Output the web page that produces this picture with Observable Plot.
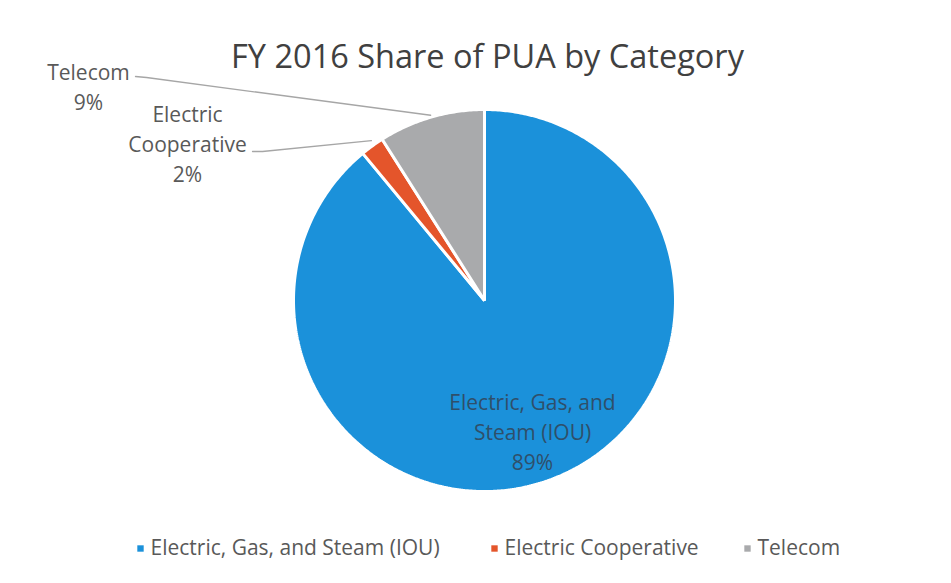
<!DOCTYPE html>
<html>
<head>
<meta charset="utf-8">
<script src="https://cdn.jsdelivr.net/npm/d3@7"></script>
<script src="https://cdn.jsdelivr.net/npm/@observablehq/plot@0.6"></script>
<style>
  html, body { margin: 0; padding: 0; background: #fff; }
  svg { display: block; }
</style>
</head>
<body>
<div id="chart"></div>
<script>
// ---- Data ----
const categories = ["Electric, Gas, and Steam (IOU)", "Electric Cooperative", "Telecom"];
const shares = [89, 2, 9];
const colors = ["#1b91da", "#e4552b", "#a9aaac"];
const labelLines = [["Electric, Gas, and", "Steam (IOU)"], ["Electric", "Cooperative"], ["Telecom"]];
const titleText = "FY 2016 Share of PUA by Category";

// ---- Layout ----
const W = 951, H = 583;
const CX = 484, CY = 300, R = 191;
const ux = px => (px - CX) / R;
const uy = py => (CY - py) / R;
const FONT = "Open Sans, sans-serif";

// pie geometry from the data
const pie = d3.pie().sort(null).value(d => d.value)(categories.map((c, i) => ({name: c, value: shares[i]})));
const slicePts = [];
pie.forEach(p => {
  const name = p.data.name;
  slicePts.push({name, x: 0, y: 0});
  const n = Math.max(4, Math.ceil((p.endAngle - p.startAngle) / 0.01));
  for (let k = 0; k <= n; k++) {
    const a = p.startAngle + (p.endAngle - p.startAngle) * k / n;
    slicePts.push({name, x: Math.sin(a), y: Math.cos(a)});
  }
});

// label positions (layout, in pixels)
const labelPos = [
  {cx: 532, top: 403, inside: true},
  {cx: 187, top: 115, inside: false},
  {cx: 88, top: 73, inside: false}
];
const lineH = 30;
const labelTexts = [];
categories.forEach((c, i) => {
  const lines = [...labelLines[i], shares[i] + "%"];
  lines.forEach((t, j) => labelTexts.push({
    x: ux(labelPos[i].cx), y: uy(labelPos[i].top + j * lineH), t,
    fill: labelPos[i].inside ? "#2f4f6a" : "#595959"
  }));
});

// leader lines (from label toward slice edge)
function edgePoint(i, f, s) {
  const p = pie[i];
  const a = p.startAngle + (p.endAngle - p.startAngle) * f;
  return {x: Math.sin(a) * s, y: Math.cos(a) * s};
}
const leaders = [];
{
  const e = edgePoint(2, 0.5, 1.01);
  leaders.push({id: "t", x: ux(135), y: uy(76)});
  leaders.push({id: "t", x: ux(146), y: uy(77)});
  leaders.push({id: "t", x: e.x, y: e.y});
  const e2 = edgePoint(1, 0.6, 1.025);
  leaders.push({id: "c", x: ux(252), y: uy(151)});
  leaders.push({id: "c", x: ux(262), y: uy(151)});
  leaders.push({id: "c", x: e2.x, y: e2.y});
}

// legend
const legendY = 548;
const legendItems = [
  {sx: 140, tx: 150},
  {sx: 494, tx: 504},
  {sx: 747, tx: 757}
].map((l, i) => ({...l, name: categories[i], color: colors[i]}));

const chart = Plot.plot({
  width: W,
  height: H,
  margin: 0,
  x: {domain: [-1, 1], range: [CX - R, CX + R], axis: null},
  y: {domain: [-1, 1], range: [CY + R, CY - R], axis: null},
  color: {domain: categories, range: colors},
  style: {fontFamily: FONT, background: "#fff"},
  marks: [
    Plot.line(slicePts, {x: "x", y: "y", z: "name", fill: "name", stroke: "#fff", strokeWidth: 3, curve: "linear-closed", strokeLinejoin: "miter"}),
    Plot.line(leaders, {x: "x", y: "y", z: "id", stroke: "#a6a6a6", strokeWidth: 1.3}),
    Plot.text(labelTexts, {x: "x", y: "y", text: "t", fill: "fill", fontSize: 21, lineAnchor: "middle"}),
    Plot.text([titleText], {x: ux(487), y: uy(57), text: d => d, fontSize: 32.5, fill: "#404040", lineAnchor: "middle"}),
    Plot.dot(legendItems, {x: d => ux(d.sx), y: uy(legendY), symbol: "square", r: 3.6, fill: "color"}),
    Plot.text(legendItems, {x: d => ux(d.tx), y: uy(legendY), text: "name", textAnchor: "start", fontSize: 21, fill: "#595959", lineAnchor: "middle"})
  ]
});
document.getElementById("chart").appendChild(chart);
</script>
</body>
</html>
